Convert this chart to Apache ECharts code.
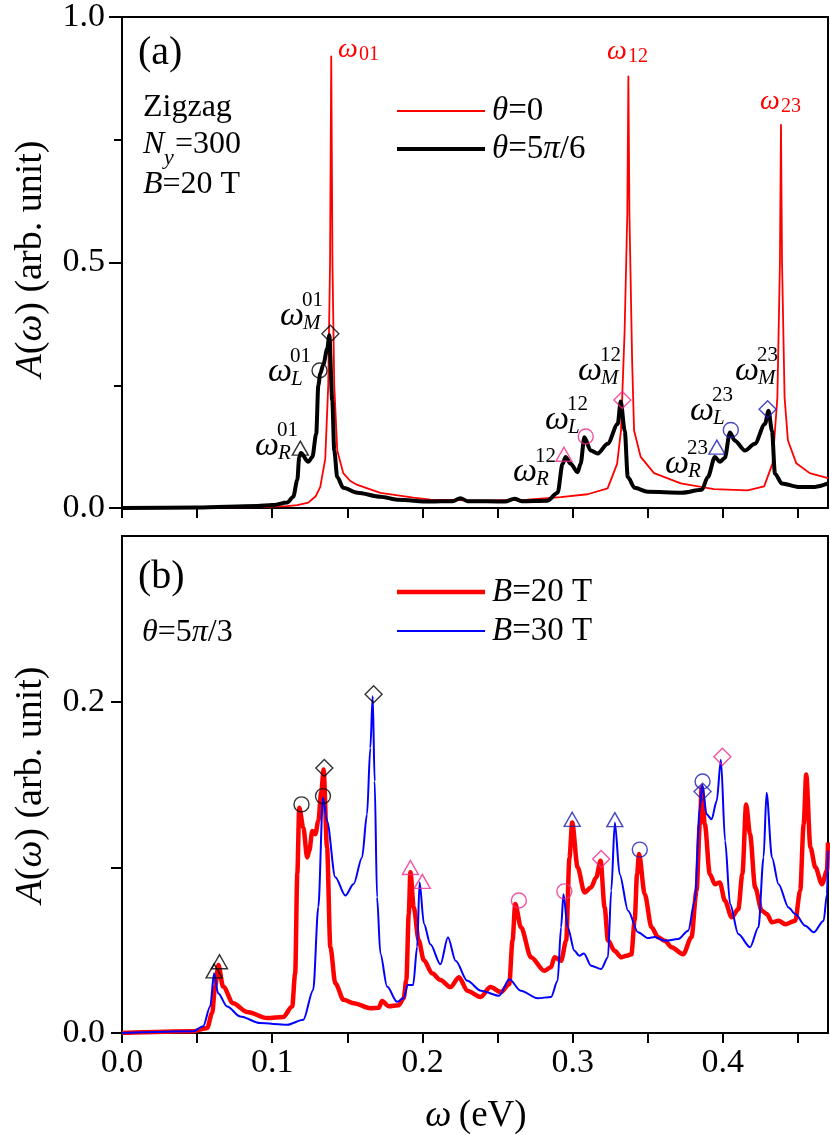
<!DOCTYPE html>
<html>
<head>
<meta charset="utf-8">
<script src="https://cdn.jsdelivr.net/npm/echarts@6/dist/echarts.min.js"></script>
<style>
  html, body { margin: 0; padding: 0; background: #fff; }
  #main { width: 830px; height: 1135px; }
</style>
</head>
<body>
<div id="main"></div>
<script>
// A(ω) spectra. x in eV, y in arb. unit
var FONT = 'Liberation Serif';

var xTicks = [0, 0.05, 0.1, 0.15, 0.2, 0.25, 0.3, 0.35, 0.4, 0.45];
var xLabels = [0, 0.1, 0.2, 0.3, 0.4];

// panel (a): theta = 0 (red) and theta = 5pi/6 (black)
var redA = [
  [0, 0], [0.05, 0.001], [0.09, 0.002], [0.11, 0.004], [0.1167, 0.006], [0.124, 0.011],
  [0.129, 0.024], [0.132, 0.043], [0.1353, 0.10], [0.1373, 0.25], [0.1385, 0.5], [0.1393, 0.92],
  [0.1401, 0.5], [0.1413, 0.25], [0.1433, 0.117], [0.1473, 0.071], [0.152, 0.055], [0.1567, 0.047],
  [0.172, 0.031], [0.194, 0.021], [0.2053, 0.017], [0.24, 0.015], [0.27, 0.017], [0.292, 0.022],
  [0.31, 0.028], [0.3233, 0.04], [0.3296, 0.09], [0.3322, 0.158], [0.3346, 0.36], [0.3364, 0.6],
  [0.3371, 0.879], [0.3378, 0.6], [0.3396, 0.3], [0.3409, 0.158], [0.3453, 0.104], [0.3542, 0.071],
  [0.372, 0.05], [0.394, 0.0385], [0.4165, 0.036], [0.4275, 0.044], [0.4331, 0.091], [0.4363, 0.225],
  [0.4380, 0.5], [0.4387, 0.78], [0.4394, 0.5], [0.4411, 0.225], [0.4433, 0.138], [0.4489, 0.091],
  [0.4578, 0.071], [0.47, 0.061]
];
var blackA = [
  [0, 0], [0.05, 0.001], [0.09, 0.004], [0.1, 0.006], [0.11, 0.011], [0.114, 0.023],
  [0.1167, 0.057], [0.118, 0.104], [0.1191, 0.112], [0.124, 0.094], [0.1267, 0.104], [0.1293, 0.151],
  [0.1307, 0.25], [0.132, 0.274], [0.134, 0.292], [0.1367, 0.325], [0.138, 0.352], [0.14, 0.218],
  [0.1413, 0.117], [0.1433, 0.063], [0.1473, 0.041], [0.1567, 0.031], [0.172, 0.023], [0.1833, 0.017],
  [0.2053, 0.013], [0.22, 0.014], [0.2253, 0.02], [0.23, 0.014], [0.255, 0.013], [0.2613, 0.019],
  [0.266, 0.014], [0.2833, 0.015], [0.29, 0.031], [0.2933, 0.09], [0.2953, 0.104], [0.2987, 0.09],
  [0.3033, 0.073], [0.3053, 0.09], [0.3078, 0.144], [0.312, 0.117], [0.3167, 0.111], [0.3233, 0.131],
  [0.33, 0.171], [0.332, 0.217], [0.3347, 0.157], [0.3367, 0.063], [0.3413, 0.041], [0.35, 0.033],
  [0.3727, 0.031], [0.386, 0.037], [0.39, 0.063], [0.3947, 0.104], [0.398, 0.094], [0.4013, 0.102],
  [0.4047, 0.154], [0.408, 0.137], [0.4147, 0.117], [0.4213, 0.131], [0.428, 0.171], [0.4304, 0.198],
  [0.4327, 0.157], [0.4347, 0.07], [0.4393, 0.05], [0.45, 0.043], [0.4613, 0.043], [0.47, 0.05]
];

// panel (b): theta = 5pi/3, B = 20 T (red) and B = 30 T (blue)
var redB = [
  [0, 0], [0.0473, 0.001], [0.0567, 0.003], [0.06, 0.012], [0.062, 0.028], [0.0642, 0.041],
  [0.0673, 0.028], [0.074, 0.018], [0.0833, 0.0127], [0.0967, 0.009], [0.1073, 0.0097], [0.1133, 0.016],
  [0.1153, 0.036], [0.1167, 0.096], [0.118, 0.136], [0.1207, 0.124], [0.1233, 0.106], [0.1247, 0.11],
  [0.1267, 0.122], [0.1287, 0.12], [0.1307, 0.128], [0.1327, 0.146], [0.1342, 0.159], [0.1365, 0.112],
  [0.1387, 0.052], [0.142, 0.030], [0.1475, 0.020], [0.1542, 0.018], [0.1653, 0.015], [0.1709, 0.0152],
  [0.1731, 0.0193], [0.1775, 0.0162], [0.1842, 0.0168], [0.1875, 0.021], [0.1893, 0.032], [0.1909, 0.072],
  [0.192, 0.097], [0.1942, 0.076], [0.1975, 0.056], [0.2009, 0.044], [0.2065, 0.036], [0.212, 0.032],
  [0.2187, 0.0277], [0.2243, 0.0337], [0.2299, 0.0255], [0.2387, 0.0217], [0.2453, 0.0277], [0.2522, 0.0247],
  [0.2578, 0.0295], [0.26, 0.056], [0.2618, 0.0778], [0.2656, 0.0638], [0.2723, 0.0457], [0.2811, 0.0376],
  [0.2856, 0.0397], [0.2879, 0.0457], [0.2923, 0.0436], [0.2957, 0.0557], [0.2979, 0.106], [0.2997, 0.127],
  [0.3033, 0.10], [0.3079, 0.0848], [0.3123, 0.0879], [0.3157, 0.094], [0.3186, 0.104], [0.3213, 0.0758],
  [0.3235, 0.056], [0.3279, 0.0496], [0.3324, 0.0457], [0.3357, 0.0466], [0.3391, 0.0475], [0.3413, 0.068],
  [0.3429, 0.0959], [0.3442, 0.108], [0.348, 0.0838], [0.3525, 0.0638], [0.3569, 0.0578], [0.3613, 0.0557],
  [0.3658, 0.0518], [0.3736, 0.0475], [0.3791, 0.0578], [0.3825, 0.086], [0.3847, 0.126], [0.3859, 0.148],
  [0.388, 0.126], [0.3913, 0.096], [0.3947, 0.0898], [0.398, 0.0909], [0.4013, 0.080], [0.4059, 0.0698],
  [0.4103, 0.0748], [0.413, 0.0959], [0.4155, 0.138], [0.4181, 0.12], [0.4215, 0.0879], [0.4259, 0.0738],
  [0.4293, 0.0718], [0.4327, 0.0668], [0.4371, 0.0678], [0.4415, 0.0657], [0.4482, 0.0678], [0.4515, 0.086],
  [0.4538, 0.126], [0.4555, 0.156], [0.4583, 0.112], [0.4616, 0.10], [0.466, 0.0898], [0.4693, 0.098],
  [0.47, 0.115]
];
var blueB = [
  [0, 0], [0.0473, 0.001], [0.054, 0.004], [0.0587, 0.016], [0.0613, 0.036], [0.064, 0.024],
  [0.07, 0.016], [0.0787, 0.010], [0.092, 0.006], [0.11, 0.005], [0.1207, 0.008], [0.1273, 0.026],
  [0.1307, 0.076], [0.1338, 0.142], [0.1365, 0.128], [0.142, 0.094], [0.1487, 0.083], [0.1542, 0.090],
  [0.1598, 0.106], [0.1631, 0.132], [0.1653, 0.172], [0.1669, 0.2034], [0.1682, 0.152], [0.1698, 0.082],
  [0.172, 0.048], [0.1765, 0.028], [0.1831, 0.0188], [0.1875, 0.021], [0.1902, 0.0289], [0.1938, 0.0289],
  [0.1965, 0.052], [0.1981, 0.091], [0.201, 0.066], [0.2053, 0.0535], [0.212, 0.0415], [0.217, 0.0578],
  [0.2221, 0.0436], [0.2299, 0.0315], [0.2389, 0.0255], [0.2511, 0.0225], [0.2578, 0.0325], [0.2655, 0.0255],
  [0.2767, 0.021], [0.2856, 0.0217], [0.29, 0.0315], [0.2923, 0.0638], [0.2939, 0.0838], [0.2967, 0.0638],
  [0.3012, 0.0496], [0.3045, 0.0466], [0.3075, 0.048], [0.3123, 0.0406], [0.319, 0.0386], [0.3235, 0.0457],
  [0.3257, 0.086], [0.3281, 0.127], [0.3313, 0.0959], [0.3369, 0.0738], [0.3435, 0.0608], [0.3502, 0.0573],
  [0.3547, 0.058], [0.3613, 0.0557], [0.3703, 0.0567], [0.3769, 0.0617], [0.3813, 0.0798], [0.3847, 0.136],
  [0.3863, 0.150], [0.3892, 0.132], [0.3925, 0.129], [0.3959, 0.140], [0.3987, 0.165], [0.4015, 0.116],
  [0.4048, 0.0778], [0.4103, 0.0597], [0.4181, 0.0518], [0.4237, 0.0638], [0.4271, 0.106], [0.4291, 0.145],
  [0.4327, 0.106], [0.4371, 0.0898], [0.4437, 0.0758], [0.4482, 0.0718], [0.4549, 0.0647], [0.4605, 0.0608],
  [0.4671, 0.0678], [0.4693, 0.0838], [0.47, 0.11]
];

// peak markers: [x, y, kind]  R = triangle, L = circle, M = diamond
var peaksA01 = [[0.1187, 0.122, 'R'], [0.1315, 0.28, 'L'], [0.1387, 0.355, 'M']];
var peaksA12 = [[0.2942, 0.1095, 'R'], [0.3087, 0.1457, 'L'], [0.3331, 0.22, 'M']];
var peaksA23 = [[0.396, 0.124, 'R'], [0.4053, 0.159, 'L'], [0.4298, 0.201, 'M']];
var peaksB01 = [[0.0613, 0.0375, 'R'], [0.0649, 0.043, 'R'], [0.1195, 0.138, 'L'], [0.1338, 0.143, 'L'],
                [0.1347, 0.160, 'M'], [0.1675, 0.2045, 'M']];
var peaksB12 = [[0.192, 0.0999, 'R'], [0.1999, 0.0915, 'R'], [0.2642, 0.080, 'L'], [0.2945, 0.0855, 'L'],
                [0.319, 0.105, 'M'], [0.3997, 0.1668, 'M']];
var peaksB23 = [[0.2997, 0.129, 'R'], [0.3281, 0.1288, 'R'], [0.3447, 0.1107, 'L'], [0.3865, 0.1518, 'L'],
                [0.3865, 0.1457, 'M']];

var KIND_SYMBOL = { R: 'triangle', L: 'circle', M: 'diamond' };
var KIND_SIZE = { R: [16, 14], L: [15, 15], M: [17, 17] };
var BLACK = '#000000', PINK = '#f0288c', NAVY = '#1a1ab4';

function peakSeries(list, color, grid) {
  return {
    type: 'scatter', xAxisIndex: grid, yAxisIndex: grid, z: 6, silent: true,
    data: list.map(function (p) {
      return { value: [p[0], p[1]], symbol: KIND_SYMBOL[p[2]], symbolSize: KIND_SIZE[p[2]] };
    }),
    itemStyle: { color: 'rgba(0,0,0,0)', borderColor: color, borderWidth: 1.4 }
  };
}

function xAxisFor(grid, showLabel) {
  return {
    type: 'value', gridIndex: grid, min: 0, max: 0.47,
    axisLine: { show: true, onZero: false, lineStyle: { color: '#000', width: 2 } },
    axisTick: { show: true, inside: false, length: 10, customValues: xTicks, lineStyle: { color: '#000', width: 2 } },
    axisLabel: { show: showLabel, customValues: xLabels, margin: 13, fontSize: 34, fontFamily: FONT, color: '#000',
                 formatter: function (v) { return v.toFixed(1); } },
    splitLine: { show: false }
  };
}

function txt(x, y, text, size, extra) {
  var style = { text: text, fontFamily: FONT, fontSize: size, fill: '#000',
                align: 'left', textAlign: 'left', verticalAlign: 'middle', textVerticalAlign: 'middle' };
  for (var k in extra) style[k] = extra[k];
  return { type: 'text', x: x, y: y, silent: true, z: 10, style: style };
}

function richStyle(size) {
  return { i: { fontStyle: 'italic', fontSize: size, fontFamily: FONT, fill: '#000', color: '#000' } };
}

function omegaLabel(x, y, sub, sup, color) {
  return [
    txt(x, y, 'ω', 34, { fontStyle: 'italic', fill: color }),
    txt(x + 23, y + 7, sub, 21, { fontStyle: 'italic', fill: color }),
    txt(x + 22, y - 16, sup, 21, { fill: color })
  ];
}

function redOmega(x, y, sub) {
  return [
    txt(x, y, 'ω', 28, { fontStyle: 'italic', fill: '#ff0000' }),
    txt(x + 21, y + 5, sub, 20, { fill: '#ff0000' })
  ];
}

// legend keys drawn by hand: a line sample then the label
function legendKey(y, color, width, label) {
  return [
    { type: 'line', silent: true, z: 10, shape: { x1: 397, y1: y, x2: 485, y2: y },
      style: { stroke: color, lineWidth: width } },
    txt(492, y, label, 33, { rich: richStyle(33) })
  ];
}

var graphics = [].concat(
  [txt(138, 53, '(a)', 40), txt(138, 577, '(b)', 40),
   txt(143, 108, 'Zigzag', 32),
   txt(143, 145, 'N', 32, { fontStyle: 'italic' }),
   txt(164, 158, 'y', 22, { fontStyle: 'italic' }),
   txt(175, 145, '=300', 32),
   txt(143, 185, '{i|B}=20 T', 32, { rich: richStyle(32) }),
   txt(142, 633, '{i|θ}=5{i|π}/3', 32, { rich: richStyle(32) }),
   txt(476, 1116, '{i|ω}\u2009(eV)', 37, { align: 'center', textAlign: 'center', rich: richStyle(37) }),
   { type: 'text', x: 31, y: 259, rotation: Math.PI / 2, silent: true,
     style: { text: '{i|A}({i|ω}) (arb. unit)', fontFamily: FONT, fontSize: 38, fill: '#000',
              align: 'center', textAlign: 'center', verticalAlign: 'middle', textVerticalAlign: 'middle', rich: richStyle(38) } },
   { type: 'text', x: 31, y: 785, rotation: Math.PI / 2, silent: true,
     style: { text: '{i|A}({i|ω}) (arb. unit)', fontFamily: FONT, fontSize: 38, fill: '#000',
              align: 'center', textAlign: 'center', verticalAlign: 'middle', textVerticalAlign: 'middle', rich: richStyle(38) } }
  ],
  legendKey(111, '#ff0000', 2, '{i|θ}=0'),
  legendKey(149, '#000000', 4, '{i|θ}=5{i|π}/6'),
  legendKey(592, '#ff0000', 4.5, '{i|B}=20 T'),
  legendKey(631, '#0000ff', 2, '{i|B}=30 T'),
  redOmega(338, 50, '01'), redOmega(607, 52, '12'), redOmega(760, 102, '23'),
  omegaLabel(255, 446, 'R', '01', '#000'), omegaLabel(268, 372, 'L', '01', '#000'), omegaLabel(280, 316, 'M', '01', '#000'),
  omegaLabel(513, 472, 'R', '12', '#000'), omegaLabel(545, 420, 'L', '12', '#000'), omegaLabel(578, 371, 'M', '12', '#000'),
  omegaLabel(665, 464, 'R', '23', '#000'), omegaLabel(690, 411, 'L', '23', '#000'), omegaLabel(735, 371, 'M', '23', '#000')
);

function lineSeries(name, grid, data, color, width, z, smooth) {
  return {
    name: name, type: 'line', xAxisIndex: grid, yAxisIndex: grid, data: data,
    symbol: 'none', showSymbol: false, smooth: smooth, smoothMonotone: 'x', z: z,
    lineStyle: { color: color, width: width, join: 'round' }, itemStyle: { color: color }
  };
}

var chart = echarts.init(document.getElementById('main'), null, { renderer: 'canvas' });
chart.setOption({
  animation: false,
  backgroundColor: '#fff',
  textStyle: { fontFamily: FONT },
  grid: [
    { left: 122, top: 11, width: 706, height: 497, show: true, borderColor: '#000', borderWidth: 2 },
    { left: 122, top: 536, width: 706, height: 497, show: true, borderColor: '#000', borderWidth: 2 }
  ],
  xAxis: [xAxisFor(0, false), xAxisFor(1, true)],
  yAxis: [
    { type: 'value', gridIndex: 0, min: 0, max: 1, interval: 0.5,
      axisLine: { show: true, lineStyle: { color: '#000', width: 2 } },
      axisTick: { show: true, length: 13, lineStyle: { color: '#000', width: 2 } },
      minorTick: { show: true, splitNumber: 2, length: 8, lineStyle: { color: '#000', width: 2 } },
      axisLabel: { margin: 17, fontSize: 34, fontFamily: FONT, color: '#000', formatter: function (v) { return v.toFixed(1); } },
      splitLine: { show: false }, minorSplitLine: { show: false } },
    { type: 'value', gridIndex: 1, min: 0, max: 0.3, interval: 0.1,
      axisLine: { show: true, lineStyle: { color: '#000', width: 2 } },
      axisTick: { show: true, length: 11, lineStyle: { color: '#000', width: 2 } },
      axisLabel: { margin: 17, fontSize: 34, fontFamily: FONT, color: '#000', showMaxLabel: false,
                   formatter: function (v) { return (Math.abs(v) < 1e-9 || Math.abs(v - 0.2) < 1e-9) ? v.toFixed(1) : ''; } },
      splitLine: { show: false } }
  ],
  series: [
    lineSeries('θ=0', 0, redA, '#ff0000', 1.8, 2, false),
    lineSeries('θ=5π/6', 0, blackA, '#000000', 4, 3, 0.3),
    lineSeries('B=20 T', 1, redB, '#ff0000', 4.5, 2, 0.3),
    lineSeries('B=30 T', 1, blueB, '#0000ff', 2, 3, 0.3),
    peakSeries(peaksA01, BLACK, 0), peakSeries(peaksA12, PINK, 0), peakSeries(peaksA23, NAVY, 0),
    peakSeries(peaksB01, BLACK, 1), peakSeries(peaksB12, PINK, 1), peakSeries(peaksB23, NAVY, 1)
  ],
  graphic: graphics
});
</script>
</body>
</html>
